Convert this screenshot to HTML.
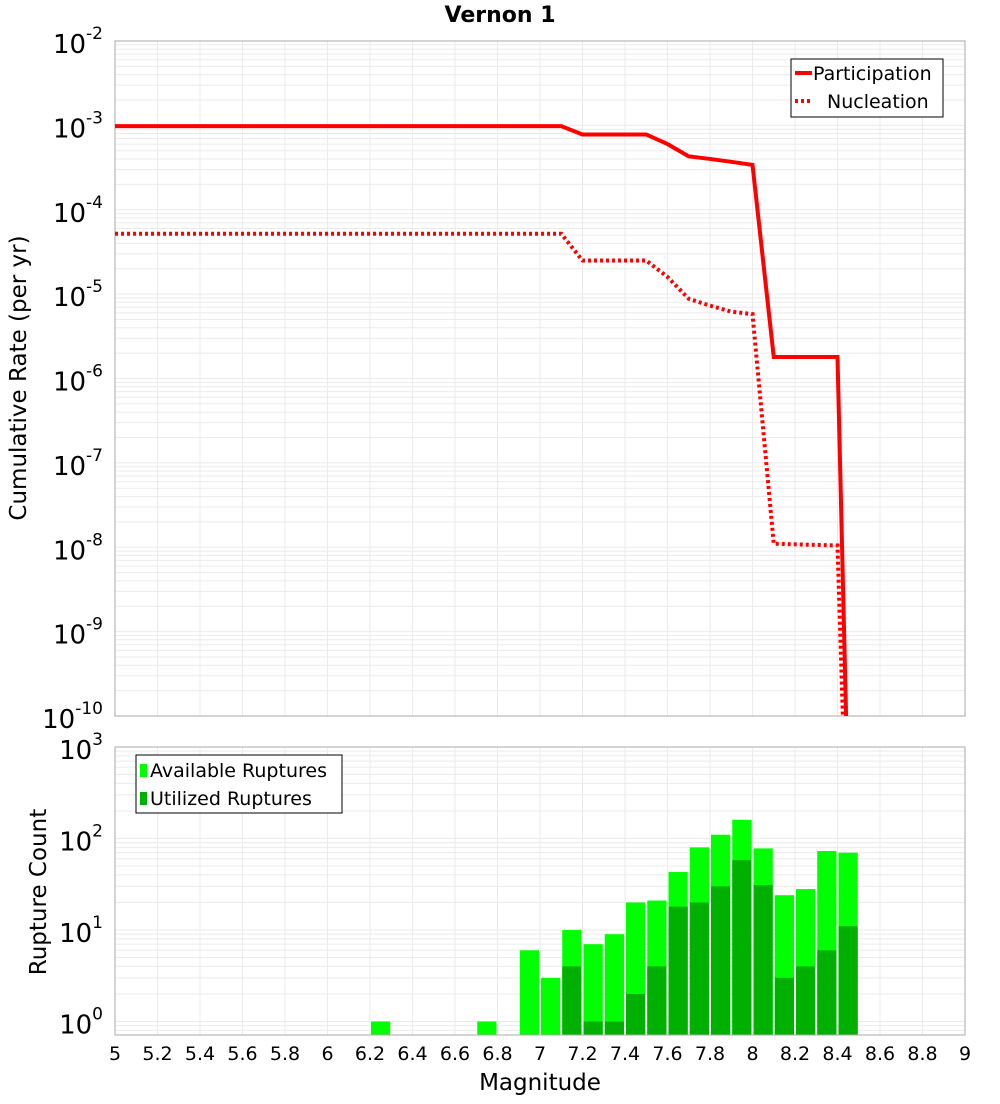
<!DOCTYPE html>
<html><head><meta charset="utf-8"><style>
body{margin:0;background:#fff;font-family:"DejaVu Sans","Liberation Sans",sans-serif}
</style></head><body>
<svg id="c" width="1000" height="1100" xmlns="http://www.w3.org/2000/svg"></svg>
<script>
const partM=[5,7.1,7.2,7.5,7.6,7.7,7.8,7.9,8.0,8.1,8.4,8.45];
const partV=[9.8e-4,9.8e-4,7.8e-4,7.8e-4,6e-4,4.3e-4,4e-4,3.7e-4,3.4e-4,1.8e-6,1.8e-6,1e-11];
const nuclM=[5,7.1,7.2,7.5,7.6,7.7,7.8,7.9,8.0,8.1,8.4,8.45];
const nuclV=[5.2e-5,5.2e-5,2.5e-5,2.5e-5,1.6e-5,8.8e-6,7.3e-6,6.2e-6,5.8e-6,1.1e-8,1.05e-8,1e-12];
const barM=[6.25,6.75,6.95,7.05,7.15,7.25,7.35,7.45,7.55,7.65,7.75,7.85,7.95,8.05,8.15,8.25,8.35,8.45];
const availV=[1,1,6,3,10,7,9,20,21,43,80,110,160,78,24,28,73,70];
const usedV=[0,0,0,0,4,1,1,2,4,18,20,30,58,31,3,4,6,11];
const xTicks=["5","5.2","5.4","5.6","5.8","6","6.2","6.4","6.6","6.8","7","7.2","7.4","7.6","7.8","8","8.2","8.4","8.6","8.8","9"];

const NS="http://www.w3.org/2000/svg",svg=document.getElementById('c');
function el(t,a,p){const e=document.createElementNS(NS,t);for(const k in a)e.setAttribute(k,a[k]);(p||svg).appendChild(e);return e;}
const L=115,R=965;
const X=m=>L+(m-5)/4*(R-L);
const T1=41,B1=716, Y1=v=>T1+(-2-Math.log10(v))/8*(B1-T1);
const T2=747,B2=1035, D2=91.5, Y2=v=>T2+(3-Math.log10(v))*D2;
function clip(id,t,b){const c=el('clipPath',{id});el('rect',{x:L,y:t,width:R-L,height:b-t},c);}
clip('c1',T1,B1);clip('c2',T2,B2);

function grid(top,bot,minE,maxE,Y){
  const g=el('g',{stroke:'#ebebeb','stroke-width':1});
  
  for(let i=0;i<=20;i++){const x=X(5+i*0.2);el('line',{x1:x,x2:x,y1:top,y2:bot},g);}
  for(let e=minE;e<maxE;e++)for(let k=1;k<10;k++){const y=Y(k*Math.pow(10,e));if(y>=top&&y<=bot)el('line',{x1:L,x2:R,y1:y,y2:y},g);}
}
grid(T1,B1,-10,-2,Y1);grid(T2,B2,-1,3,Y2);

// top frame
let f=el('rect',{x:L,y:T1,width:R-L,height:B1-T1,fill:'none',stroke:'#aaa'});

// y labels top
for(let e=-2;e>=-10;e--){
  const t=el('text',{x:103,y:Y1(Math.pow(10,e))+12,'text-anchor':'end','font-size':26,fill:'#000'});
  
  t.innerHTML='10<tspan dy="-14" font-size="17">'+e+'</tspan>';
}
function line(M,V,dash,name){
  const pts=M.map((m,i)=>X(m)+','+Y1(V[i])).join(' ');
  const p=el('polyline',{points:pts,fill:'none',stroke:'#f00','stroke-width':4,'clip-path':'url(#c1)','stroke-dasharray':dash||'none'});
  
}
line(partM,partV,null,'participation-line');
line(nuclM,nuclV,'3 3','nucleation-line');

// legend top
const lg=el('g',{});
el('rect',{x:791,y:59,width:152,height:58,fill:'#fff',stroke:'#000'},lg);
el('line',{x1:795,x2:812,y1:73,y2:73,stroke:'#f00','stroke-width':4},lg);
el('line',{x1:795,x2:812,y1:101,y2:101,stroke:'#f00','stroke-width':4,'stroke-dasharray':'3 3'},lg);
let t=el('text',{x:813,y:80,'font-size':19},lg);t.textContent='Participation';

t=el('text',{x:827,y:108,'font-size':19},lg);t.textContent='Nucleation';


// title
t=el('text',{x:500,y:22,'text-anchor':'middle','font-size':22,'font-weight':'bold'});t.textContent='Vernon 1';

t=el('text',{x:0,y:0,'text-anchor':'middle','font-size':23,transform:'translate(26,378) rotate(-90)'});t.textContent='Cumulative Rate (per yr)';


// bottom bars
const bw=(X(5.1)-X(5))-2;
barM.forEach((m,i)=>{
  const x=X(m)-bw/2;
  const r=el('rect',{x,y:Y2(availV[i]),width:bw,height:B2-Y2(availV[i]),fill:'#00ff00','clip-path':'url(#c2)'});
  
  if(usedV[i]>0){const u=el('rect',{x,y:Y2(usedV[i]),width:bw,height:B2-Y2(usedV[i]),fill:'#00b000','clip-path':'url(#c2)'});
  }
});
f=el('rect',{x:L,y:T2,width:R-L,height:B2-T2,fill:'none',stroke:'#aaa'});

for(let e=3;e>=0;e--){
  const y=Y2(Math.pow(10,e))+12;
  const tt=el('text',{x:103,y:e==0?y:y,'text-anchor':'end','font-size':26});
  
  tt.innerHTML='10<tspan dy="-14" font-size="17">'+e+'</tspan>';
}
xTicks.forEach((s,i)=>{const tt=el('text',{x:X(5+i*0.2),y:1060,'text-anchor':'middle','font-size':19});tt.textContent=s;
  });
t=el('text',{x:540,y:1090,'text-anchor':'middle','font-size':23});t.textContent='Magnitude';

t=el('text',{x:0,y:0,'text-anchor':'middle','font-size':23,transform:'translate(46,892) rotate(-90)'});t.textContent='Rupture Count';


const lg2=el('g',{});
el('rect',{x:136,y:755,width:206,height:58,fill:'#fff',stroke:'#000'},lg2);
el('rect',{x:140,y:764,width:7,height:13,fill:'#00ff00'},lg2);
el('rect',{x:140,y:792,width:7,height:13,fill:'#00b000'},lg2);
t=el('text',{x:150,y:777,'font-size':19},lg2);t.textContent='Available Ruptures';

t=el('text',{x:150,y:805,'font-size':19},lg2);t.textContent='Utilized Ruptures';

</script>
</body></html>
